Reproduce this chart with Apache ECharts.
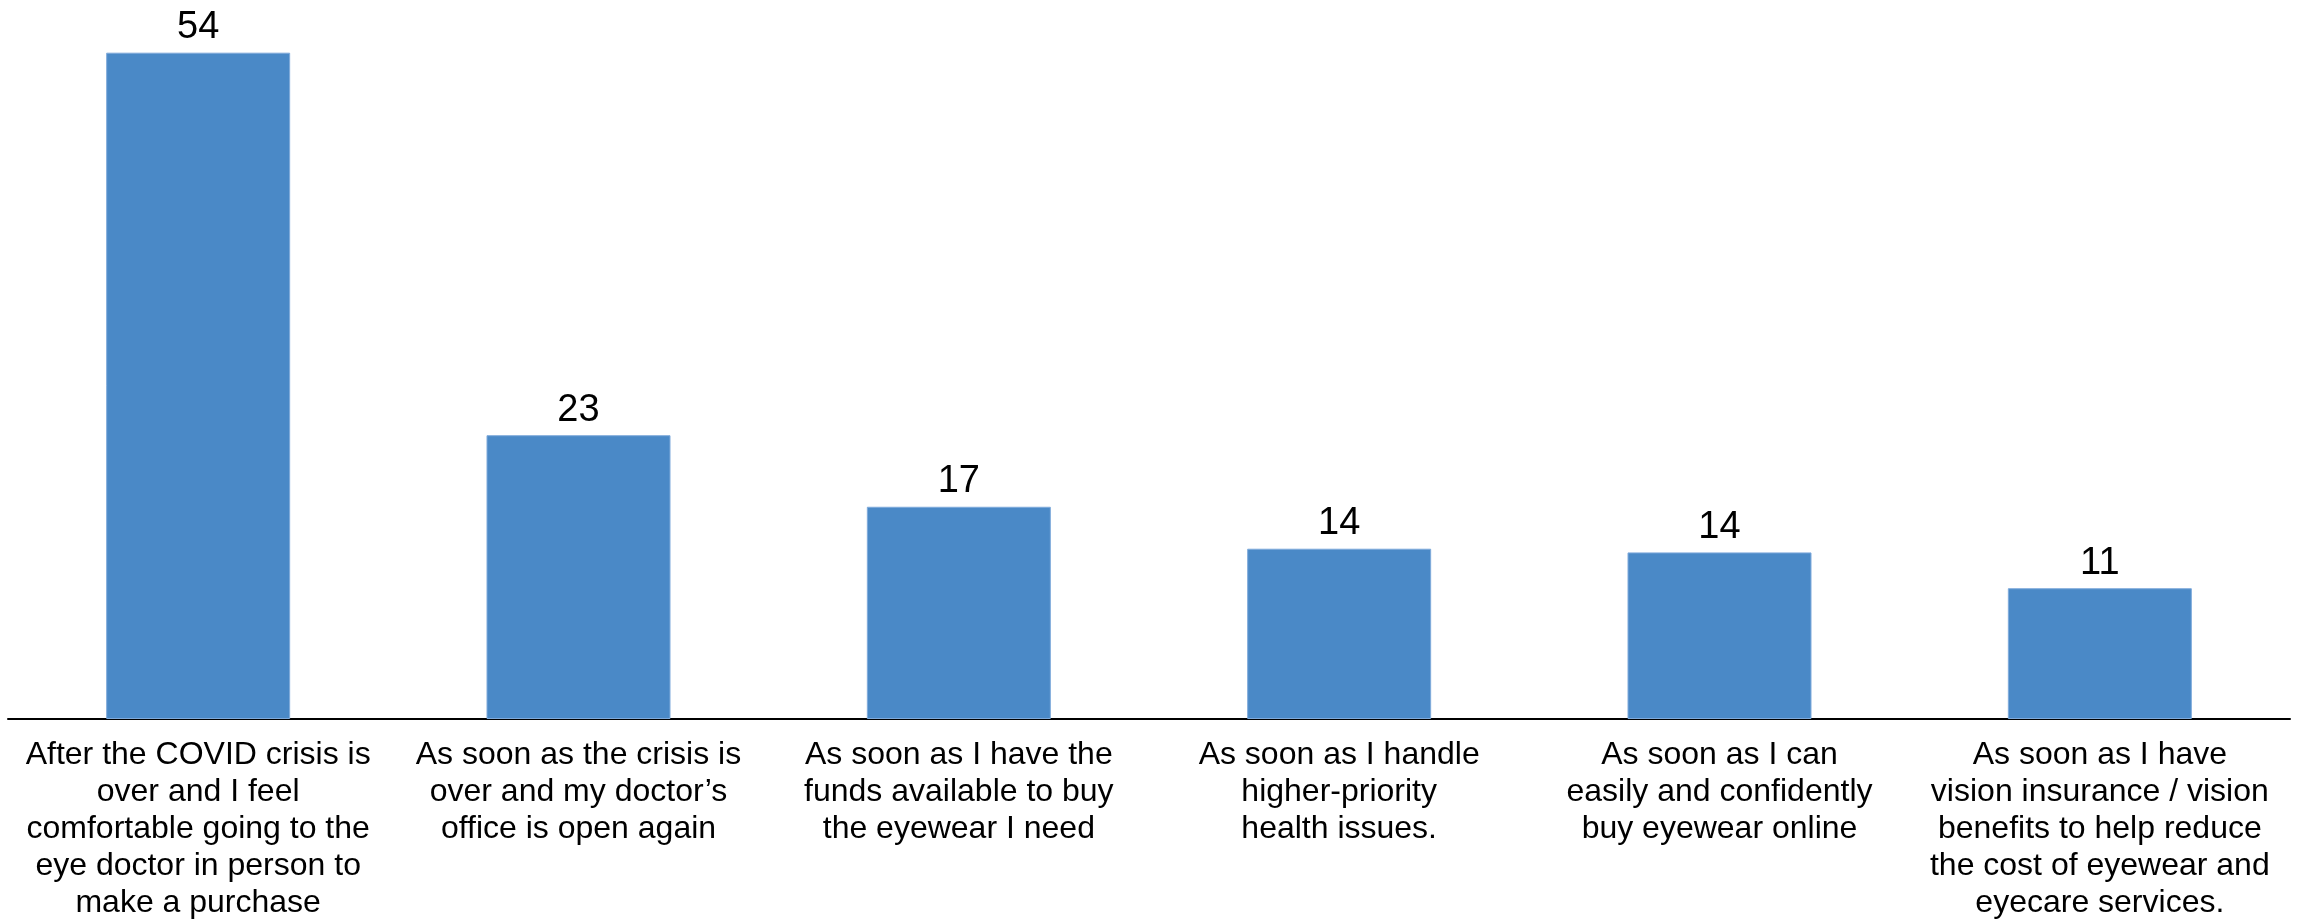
<!DOCTYPE html>
<html>
<head>
<meta charset="utf-8">
<script src="https://cdn.jsdelivr.net/npm/echarts@6/dist/echarts.min.js"></script>
<style>
html,body{margin:0;padding:0;background:#fff;}
#chart{width:2305px;height:922px;}
</style>
</head>
<body>
<div id="chart"></div>
<script>
const categories = [
  "After the COVID crisis is\nover and I feel\ncomfortable going to the\neye doctor in person to\nmake a purchase",
  "As soon as the crisis is\nover and my doctor’s\noffice is open again",
  "As soon as I have the\nfunds available to buy\nthe eyewear I need",
  "As soon as I handle\nhigher-priority\nhealth issues.",
  "As soon as I can\neasily and confidently\nbuy eyewear online",
  "As soon as I have\nvision insurance / vision\nbenefits to help reduce\nthe cost of eyewear and\neyecare services."
];
const values = [54, 23, 17.2, 13.8, 13.5, 10.6];

const chart = echarts.init(document.getElementById('chart'), null, {renderer: 'canvas'});
chart.setOption({
  animation: false,
  backgroundColor: '#ffffff',
  grid: {left: 8, right: 15, top: 28, bottom: 203, containLabel: false},
  xAxis: {
    type: 'category',
    data: categories,
    axisLine: {show: true, lineStyle: {color: '#000', width: 2}},
    axisTick: {show: false},
    axisLabel: {
      interval: 0,
      margin: 18,
      color: '#000',
      fontFamily: 'Liberation Sans, Arial, sans-serif',
      fontSize: 32,
      lineHeight: 37,
      align: 'center'
    }
  },
  yAxis: {
    type: 'value',
    min: 0,
    max: 56,
    show: false,
    splitLine: {show: false}
  },
  series: [{
    type: 'bar',
    data: values,
    barWidth: 184,
    itemStyle: {color: '#4A89C7', borderColor: '#7FAADB', borderWidth: 1},
    label: {
      show: true,
      position: 'top',
      distance: 6,
      color: '#000',
      fontFamily: 'Liberation Sans, Arial, sans-serif',
      fontSize: 38,
      formatter: p => Math.round(p.value)
    }
  }]
});
</script>
</body>
</html>
